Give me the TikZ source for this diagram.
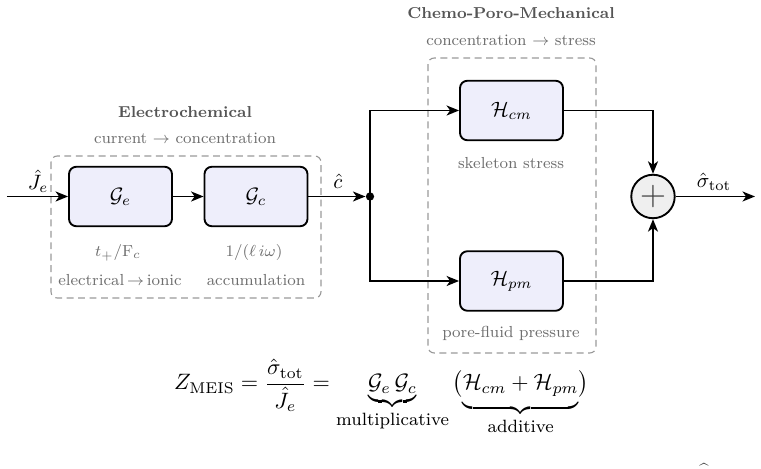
\documentclass[tikz,border=0pt]{standalone}
\usepackage{amsmath}
\usetikzlibrary{arrows.meta}
\definecolor{blkfill}{HTML}{EEEEFB}
\definecolor{sumfill}{HTML}{EFEFEF}
\definecolor{lbl}{HTML}{6E6E6E}
\definecolor{ttl}{HTML}{555555}
\definecolor{grpline}{HTML}{999999}
\begin{document}
\begin{tikzpicture}[x=0.4808pt,y=-0.4808pt,
  blk/.style={draw=black, line width=0.9pt, rounded corners=3.5pt, fill=blkfill,
    minimum width=49.5pt, minimum height=28.6pt, inner sep=0pt},
  grp/.style={draw=grpline, dash pattern=on 3.3pt off 2.2pt, line width=0.55pt, rounded corners=3pt},
  conn/.style={line width=0.9pt, -{Stealth[length=6pt,width=4.8pt,inset=1.7pt]}},
  note/.style={text=lbl, font=\footnotesize, inner sep=0pt, scale=0.96},
  ttlbl/.style={text=ttl, font=\footnotesize\bfseries, inner sep=0pt, scale=0.95},
  sig/.style={inner sep=0pt}]
\useasboundingbox (0,0) rectangle (761,469);

% group frames
\draw[grp] (51,156) rectangle (321,298);
\draw[grp] (428,58) rectangle (596,353);

% titles
\node[ttlbl] (t1) at (185,112) {Electrochemical};
\node[note] (s1) at (185,138) {current $\rightarrow$ concentration};
\node[ttlbl] (t2) at (511,13) {Chemo-Poro-Mechanical};
\node[note] (s2) at (511,40) {concentration $\rightarrow$ stress};

% blocks
\node[blk] (ge) at (120.5,196.5) {$\mathcal{G}_e$};
\node[blk] (gc) at (256,196.5) {$\mathcal{G}_c$};
\node[blk] (hcm) at (511.5,110.5) {$\mathcal{H}_{cm}$};
\node[blk] (hpm) at (511.5,281) {$\mathcal{H}_{pm}$};

% block notes
\node[note] (n1) at (118,253) {$t_+/\mathrm{F}_c$};
\node[note] (n2) at (254,253) {$1/(\ell\, i\omega)$};
\node[note] (n3) at (120,280) {electrical$\,\rightarrow\,$ionic};
\node[note] (n4) at (256,280) {accumulation};
\node[note] (n5) at (511,163) {skeleton stress};
\node[note] (n6) at (511,333) {pore-fluid pressure};

% junction, sum
\node[circle, fill=black, inner sep=0pt, minimum size=4pt] (jn) at (370,196.5) {};
\node[circle, draw=black, line width=0.9pt, fill=sumfill, minimum size=20.9pt, inner sep=0pt] (sum) at (653,196.5) {};
\node[text=black!75, inner sep=0pt] (plus) at (653,196.5) {\LARGE$+$};

\coordinate (in) at (7,196.5);
\coordinate (out) at (755,196.5);

% signals
\node[sig] (je) at (38,181) {$\hat{J}_e$};
\node[sig] (ch) at (338,181) {$\hat{c}$};
\node[sig] (st) at (714,182) {$\hat{\sigma}_{\mathrm{tot}}$};

% connectors
\draw[conn] (in) -- (ge);
\draw[conn] (ge) -- (gc);
\draw[conn] (gc) -- (jn);
\draw[conn] (jn.center) |- (hcm);
\draw[conn] (jn.center) |- (hpm);
\draw[conn] (hcm) -| (sum);
\draw[conn] (hpm) -| (sum);
\draw[conn] (sum) -- (out);

% transfer function
\node[inner sep=0pt, anchor=base, scale=1.07] (eq) at (381.5,390) {$Z_{\mathrm{MEIS}} = \dfrac{\hat{\sigma}_{\mathrm{tot}}}{\hat{J}_e} = \underbrace{\mathcal{G}_e\,\mathcal{G}_c}_{\mbox{\footnotesize multiplicative}}\,\bigl(\underbrace{\mathcal{H}_{cm}+\mathcal{H}_{pm}\rule[-4.5pt]{0pt}{4.5pt}}_{\mbox{\footnotesize additive}}\bigr)$};

% stray accent at lower right
\node[inner sep=0pt, text=black!80] (acc) at (704,469) {\footnotesize\^{}};
\end{tikzpicture}
\end{document}
